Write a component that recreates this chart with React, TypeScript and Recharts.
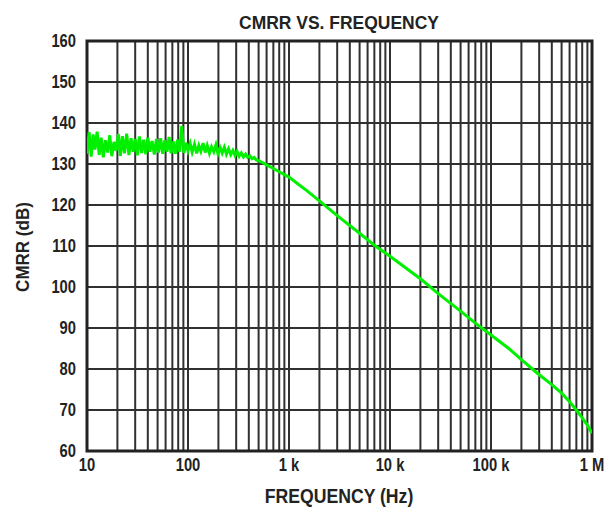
import React from 'react';
import { LineChart, Line, XAxis, YAxis, CartesianGrid, ReferenceArea } from 'recharts';

const freqHz = [
  10, 10.5, 11, 11.5, 12, 12.6, 13.2, 13.8, 14.5, 15.2, 16, 16.8, 17.6, 18.5, 19.4, 20.4,
  21.4, 22.4, 23.5, 24.7, 26, 27.3, 28.6, 30, 31.5, 33, 34.7, 36.4, 38.2, 40, 42, 44,
  46.4, 48.7, 51, 53.6, 56.2, 59, 62, 65, 68, 71.5, 75, 78.8, 82.7, 86.8, 91, 95.5,
  100, 105, 110, 116, 122, 128, 134, 141, 148, 155, 163, 171, 180, 189, 198, 208,
  218, 229, 240, 252, 265, 278, 292, 306, 321, 337, 354, 372, 390, 410, 430, 450,
  475, 500, 550, 600, 700, 800, 900, 1000, 1200, 1500, 2000, 3000, 5000, 7000, 10000, 20000,
  30000, 50000, 70000, 100000, 150000, 200000, 300000, 400000, 500000, 600000, 700000,
  800000, 900000, 1000000,
];

const cmrrDb = [
  132.5, 137.8, 131.8, 137.2, 133.5, 137.9, 132.2, 136.4, 131.6, 135.8, 132.8, 137, 131.9, 135.4, 133.2, 137.3,
  132, 136.8, 132.6, 137.4, 132.2, 136.3, 133, 136.1, 132.1, 136.7, 132.7, 135.9, 132.4, 136.4, 133, 135.6,
  132.3, 136.1, 132.8, 136.3, 132.5, 135.8, 133, 136.6, 132.6, 135.5, 132.5, 135.9, 133, 139.3, 132.7, 135.2,
  133.2, 135, 132.9, 134.8, 132.6, 134.5, 133.1, 135.1, 132.8, 134.5, 132.6, 134.2, 133, 134.7, 132.5, 134,
  132.7, 134.1, 132.4, 133.7, 132.3, 133.3, 132.1, 133.1, 131.9, 132.7, 131.7, 132.4, 131.6, 132, 131.3, 131.6,
  131, 130.8, 130.3, 129.8, 128.9, 128.1, 127.4, 126.8, 125.3, 123.5, 121, 117.4, 113.1, 110.2, 107.5, 102,
  98.4, 94.1, 91.2, 88.3, 85, 82.3, 78.6, 76.2, 74.1, 72, 70, 68.1, 66.3, 64.3,
];

const xTicks = [
  10, 20, 30, 40, 50, 60, 70, 80, 90,
  100, 200, 300, 400, 500, 600, 700, 800, 900,
  1000, 2000, 3000, 4000, 5000, 6000, 7000, 8000, 9000,
  10000, 20000, 30000, 40000, 50000, 60000, 70000, 80000, 90000,
  100000, 200000, 300000, 400000, 500000, 600000, 700000, 800000, 900000,
  1000000,
];
const decadeValues = [10, 100, 1000, 10000, 100000, 1000000];
const decadeLabels = ['10', '100', '1 k', '10 k', '100 k', '1 M'];
const yTicks = [60, 70, 80, 90, 100, 110, 120, 130, 140, 150, 160];

const data = freqHz.map((f, i) => ({ f, v: cmrrDb[i] }));

const FONT = "'Liberation Sans', Arial, sans-serif";
const TXT = '#222';

const fmtX = (v: number) => {
  const i = decadeValues.indexOf(v);
  return i >= 0 ? decadeLabels[i] : '';
};

const XTick = (props: any) => {
  const { x, y, payload } = props;
  const label = fmtX(payload.value);
  if (!label) return null;
  return (
    <text transform={`translate(${x},${y}) scale(0.82,1)`} textAnchor="middle" dy="0.71em"
      fill={TXT} fontSize={18} fontWeight="bold" fontFamily={FONT}>
      {label}
    </text>
  );
};

const YTick = (props: any) => {
  const { x, y, payload } = props;
  return (
    <text transform={`translate(${x},${y}) scale(0.82,1)`} textAnchor="end" dy="0.355em"
      fill={TXT} fontSize={18} fontWeight="bold" fontFamily={FONT}>
      {payload.value}
    </text>
  );
};

export default function App() {
  return (
    <div style={{ position: 'absolute', left: 0, top: 0, width: 613, height: 517, background: '#fff', fontFamily: FONT }}>
      <div style={{ position: 'absolute', left: 339, top: 23, width: 0, height: 0 }}>
        <div style={{ position: 'absolute', transform: 'translate(-50%, -50%) scale(0.97,1)', whiteSpace: 'nowrap', fontWeight: 'bold', fontSize: 18, color: TXT, lineHeight: 1 }}>
          CMRR VS. FREQUENCY
        </div>
      </div>
      <div style={{ position: 'absolute', left: 339, top: 496, width: 0, height: 0 }}>
        <div style={{ position: 'absolute', transform: 'translate(-50%, -50%) scale(0.86,1)', whiteSpace: 'nowrap', fontWeight: 'bold', fontSize: 20.5, color: TXT, lineHeight: 1 }}>
          FREQUENCY (Hz)
        </div>
      </div>
      <div style={{ position: 'absolute', left: 23, top: 247, width: 0, height: 0 }}>
        <div style={{ position: 'absolute', transform: 'translate(-50%, -50%) rotate(-90deg) scale(0.92,1)', whiteSpace: 'nowrap', fontWeight: 'bold', fontSize: 18.5, color: TXT, lineHeight: 1 }}>
          CMRR (dB)
        </div>
      </div>
      <LineChart width={613} height={517} data={data} margin={{ top: 41, right: 21, bottom: 36, left: 0 }}>
        <CartesianGrid stroke="#303030" strokeWidth={2} />
        <XAxis
          dataKey="f"
          type="number"
          scale="log"
          domain={[10, 1000000]}
          ticks={xTicks}
          interval={0}
          tickFormatter={fmtX}
          tickLine={false}
          axisLine={false}
          tickSize={0}
          tickMargin={7}
          height={30}
          allowDataOverflow
          tick={<XTick />}
        />
        <YAxis
          type="number"
          domain={[60, 160]}
          ticks={yTicks}
          interval={0}
          tickLine={false}
          axisLine={false}
          tickSize={0}
          tickMargin={11}
          width={87}
          allowDataOverflow
          tick={<YTick />}
        />
        <Line
          dataKey="v"
          stroke="#00f000"
          strokeWidth={3}
          dot={false}
          isAnimationActive={false}
          type="linear"
        />
        <ReferenceArea x1={10} x2={1000000} y1={60} y2={160} fill="none" stroke="#222" strokeWidth={3} ifOverflow="visible" />
      </LineChart>
    </div>
  );
}
